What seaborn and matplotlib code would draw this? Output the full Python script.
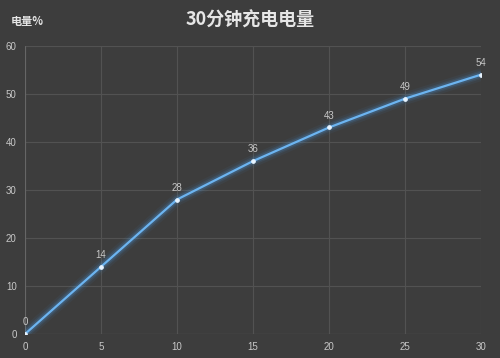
import matplotlib.pyplot as plt
import seaborn as sns
import pandas as pd

minutes = [0, 5, 10, 15, 20, 25, 30]
charge = [0, 14, 28, 36, 43, 49, 54]
x_ticks = [0, 5, 10, 15, 20, 25, 30]
y_ticks = [0, 10, 20, 30, 40, 50, 60]

df = pd.DataFrame({'minutes': minutes, 'charge': charge})

sns.set_style('dark')
plt.rcParams['font.family'] = ['Noto Sans CJK SC', 'DejaVu Sans']

bg = '#3d3d3d'
fig = plt.figure(figsize=(5, 3.58), dpi=100, facecolor=bg)
ax = fig.add_axes([0.05, 0.067, 0.912, 0.805])
ax.set_facecolor(bg)

# glow under the line
for lw, a in [(9, 0.06), (6, 0.1), (4, 0.18)]:
    sns.lineplot(data=df, x='minutes', y='charge', ax=ax, color='#4a9ee8',
                 linewidth=lw, alpha=a)
sns.lineplot(data=df, x='minutes', y='charge', ax=ax, color='#6cb4f0',
             linewidth=1.6, marker='o', markersize=2.6,
             markerfacecolor='#e8f4ff', markeredgecolor='#e8f4ff')

for xv, yv in zip(minutes, charge):
    ax.annotate(str(yv), (xv, yv), xytext=(0, 5), textcoords='offset points',
                ha='center', va='bottom', fontsize=7, color='#c8c8c8',
                family='Liberation Sans')

ax.set_xlim(0, 30)
ax.set_ylim(0, 60)
ax.set_xticks(x_ticks)
ax.set_yticks(y_ticks)
ax.tick_params(colors='#c8c8c8', labelsize=7, length=0, pad=6)
for lbl in ax.get_xticklabels() + ax.get_yticklabels():
    lbl.set_family('Liberation Sans')
ax.grid(True, color='#525252', linewidth=0.8)
for s in ax.spines.values():
    s.set_visible(False)
ax.axhline(0, color='#666666', linewidth=0.8, zorder=1)
ax.axvline(0, color='#666666', linewidth=0.8, zorder=1)
ax.set_xlabel('')
ax.set_ylabel('')

fig.text(0.5, 0.945, '30分钟充电电量', ha='center', va='center',
         fontsize=13, fontweight='bold', color='#e6e6e6')
fig.text(0.022, 0.94, '电量%', ha='left', va='center', fontsize=8,
         fontweight='bold', color='#e6e6e6')

fig.savefig('out.png', dpi=100, facecolor=bg)
